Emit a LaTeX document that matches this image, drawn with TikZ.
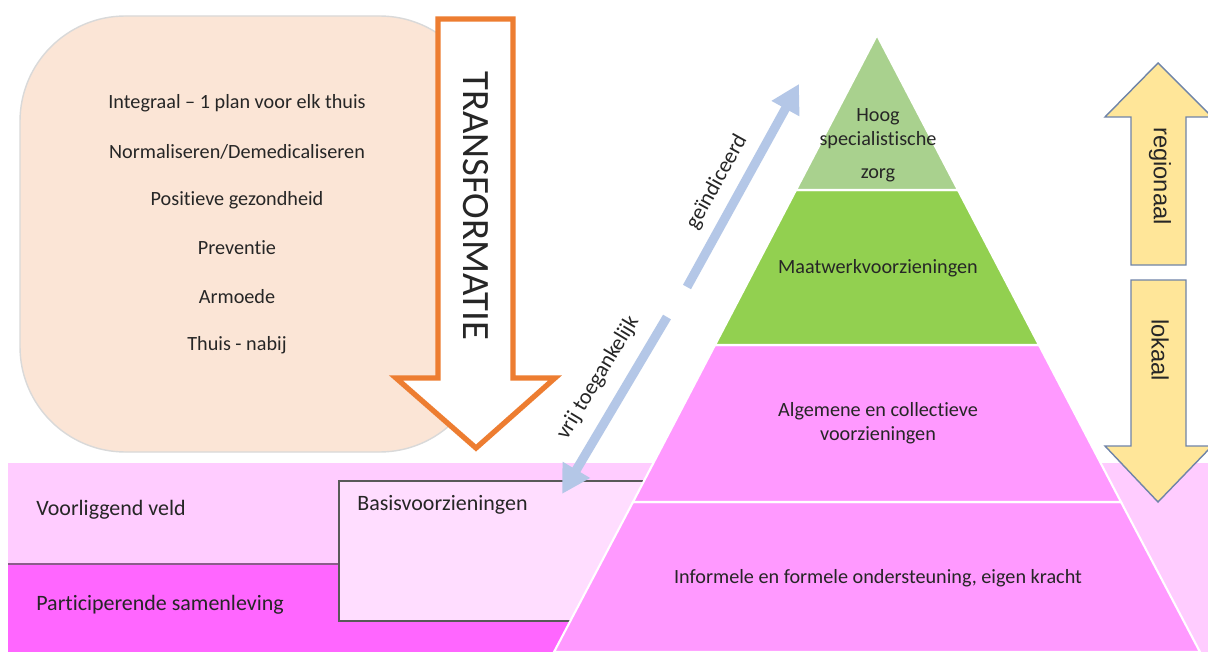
\documentclass[tikz,border=0pt]{standalone}
\usepackage{fontspec}
\setmainfont{Carlito}[Ligatures={NoCommon}]
\newfontfamily\arialfont{Liberation Sans}
\usetikzlibrary{arrows.meta}

\definecolor{peach}{HTML}{FBE5D6}
\definecolor{peachline}{HTML}{D9D9D9}
\definecolor{transorange}{HTML}{ED7D31}
\definecolor{veldpink}{HTML}{FFCCFF}
\definecolor{samenpink}{HTML}{FF66FF}
\definecolor{basispink}{HTML}{FFDDFF}
\definecolor{pyrpink}{HTML}{FF99FF}
\definecolor{lightgreen}{HTML}{A9D18E}
\definecolor{midgreen}{HTML}{92D050}
\definecolor{arrowblue}{HTML}{B4C7E7}
\definecolor{yellowarrow}{HTML}{FFE699}
\definecolor{yellowline}{HTML}{6F84A8}
\definecolor{boxgray}{HTML}{595959}
\definecolor{textgray}{HTML}{262626}

\tikzset{
  layer/.style={draw=white, line width=1.2pt},
  bluearrow/.style={draw=arrowblue, line width=5.2pt, -{Triangle[length=16pt,width=17pt]}},
  yarrow/.style={fill=yellowarrow, draw=yellowline, line width=0.8pt},
  lbl/.style={text=textgray, inner sep=0pt}
}

\begin{document}
\begin{tikzpicture}[x=0.02cm, y=-0.02cm, font=\fontsize{11.5}{13.8}\selectfont]
    \clip (0,0) rectangle (1208,652);
    \fill[white] (0,0) rectangle (1208,652);

    % Draw background bands
    \fill[veldpink] (8,463) rectangle (1208,652);
    \fill[samenpink] (8,564) rectangle (700,652);
    \draw[line width=0.8pt, boxgray!70!samenpink] (8,564) -- (339,564);

    % Basisvoorzieningen box, partly behind the pyramid
    \fill[basispink] (339,481) rectangle (720,621);
    \draw[line width=1pt, boxgray] (720,481) -- (339,481) -- (339,621) -- (720,621);

    % Draw the pyramid
    \coordinate (top) at (877,35);
    \filldraw[layer, fill=pyrpink] (633,502) -- (1121,502) -- (1200,652) -- (554,652) -- cycle;
    \filldraw[layer, fill=pyrpink] (715,345) -- (1039,345) -- (1121,502) -- (633,502) -- cycle;
    \filldraw[layer, fill=midgreen] (796,190) -- (958,190) -- (1039,345) -- (715,345) -- cycle;
    \filldraw[layer, fill=lightgreen] (top) -- (958,190) -- (796,190) -- cycle;

    \node[lbl, align=center] (hoog) at (878,145) {Hoog\\specialistische\\[5pt]zorg};
    \node[lbl] (maatwerk) at (878,268) {Maatwerkvoorzieningen};
    \node[lbl, align=center] (algemeen) at (878,423) {Algemene en collectieve\\voorzieningen};
    \node[lbl] (informeel) at (878,578) {Informele en formele ondersteuning, eigen kracht};

    % Left side labels
    \node[lbl, anchor=west, font=\fontsize{12.5}{15}\selectfont] (veld) at (36,510) {Voorliggend veld};
    \node[lbl, anchor=west, font=\fontsize{12.5}{15}\selectfont] (samen) at (36,605) {Participerende samenleving};
    \node[lbl, anchor=west, font=\fontsize{12.5}{15}\selectfont] (basis) at (357,505) {Basisvoorzieningen};

    % Yellow arrows on the right
    \filldraw[yarrow] (1158,63) -- (1212,117) -- (1186,117) -- (1186,265) -- (1131,265) -- (1131,117) -- (1105,117) -- cycle;
    \filldraw[yarrow] (1131,280) -- (1186,280) -- (1186,446) -- (1212,446) -- (1158,502) -- (1105,446) -- (1131,446) -- cycle;
    \node[lbl, rotate=-90, font=\arialfont\fontsize{13.5}{16}\selectfont] (regio) at (1160,176) {regionaal};
    \node[lbl, rotate=-90, font=\arialfont\fontsize{13.5}{16}\selectfont] (lokaal) at (1160,350) {lokaal};

    % Rounded box with themes
    \filldraw[fill=peach, draw=peachline, line width=0.8pt, rounded corners=60] (20,16) rectangle (485,452);
    \node[lbl] (integraal) at (237,103) {Integraal -- 1 plan voor elk thuis};
    \node[lbl] (normaal) at (237,152) {Normaliseren/Demedicaliseren};
    \node[lbl] (positief) at (237,200) {Positieve gezondheid};
    \node[lbl] (preventie) at (237,248) {Preventie};
    \node[lbl] (armoede) at (237,297) {Armoede};
    \node[lbl] (thuis) at (237,345) {Thuis - nabij};

    % Transformatie arrow
    \filldraw[fill=white, draw=transorange, line width=3pt, line join=miter]
        (438,19) -- (513,19) -- (513,378) -- (555,378) -- (476,448) -- (396,378) -- (438,378) -- cycle;
    \node[lbl, rotate=-90, font=\fontsize{22}{26}\selectfont] (transformatie) at (476,206) {TRANSFORMATIE};

    % Blue arrows along the pyramid
    \coordinate (gstart) at (687,287);
    \coordinate (gend) at (799,84);
    \coordinate (vstart) at (667,317);
    \coordinate (vend) at (562,494);
    \draw[bluearrow] (gstart) -- (gend);
    \draw[bluearrow] (vstart) -- (vend);
    \node[lbl, rotate=61, font=\fontsize{12.5}{15}\selectfont] (geind) at (717,182) {geïndiceerd};
    \node[lbl, rotate=59, font=\fontsize{12.5}{15}\selectfont] (vrij) at (598,378) {vrij toegankelijk};
\end{tikzpicture}
\end{document}
